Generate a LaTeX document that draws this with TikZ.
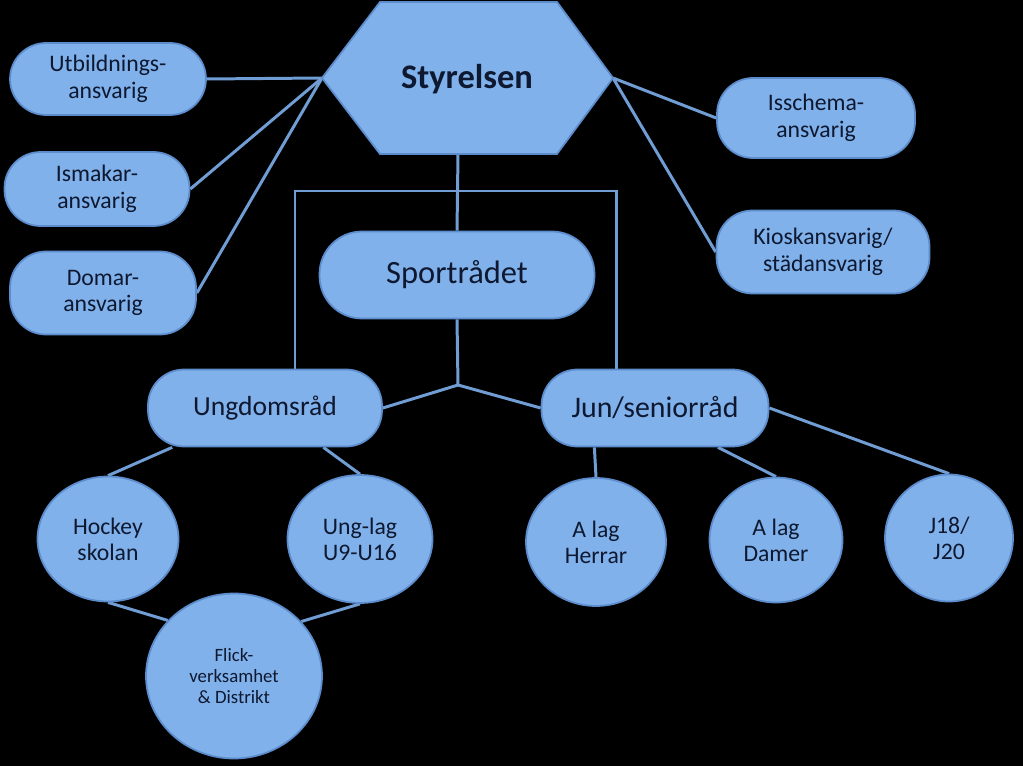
\documentclass[tikz,border=0pt]{standalone}
\usepackage{fontspec}
\setmainfont{Carlito}
\usetikzlibrary{shapes.geometric}
\definecolor{boxfill}{RGB}{128,177,234}
\definecolor{boxline}{RGB}{92,140,204}
\definecolor{wirecol}{RGB}{112,157,211}
\definecolor{ink}{RGB}{14,24,48}
\pgfdeclarelayer{bg}
\pgfdeclarelayer{wires}
\pgfsetlayers{bg,wires,main}
\tikzset{
  pill/.style={draw=boxline, fill=boxfill, line width=1pt, rounded corners=0.72cm,
    text=ink, align=center, inner sep=0pt},
  disc/.style={ellipse, draw=boxline, fill=boxfill, line width=1pt,
    text=ink, align=center, inner sep=0pt},
  wire/.style={draw=wirecol, line width=1.7pt},
  side/.style={font=\fontsize{13.5}{15.2}\selectfont},
  team/.style={font=\fontsize{13.5}{14.8}\selectfont},
}
\begin{document}
\begin{tikzpicture}[x=0.02cm, y=-0.02cm]
\begin{pgfonlayer}{bg}
  \fill[black] (0,0) rectangle (1023,766);
\end{pgfonlayer}

\filldraw[fill=boxfill, draw=boxline, line width=1pt]
  (380,2) -- (557,2) -- (613,78) -- (557,154) -- (380,154) -- (322,78) -- cycle;
\node[text=ink, font=\fontsize{19.6}{22}\selectfont\bfseries] (sty) at (467,79) {Styrelsen};
\coordinate (styW) at (322,78);
\coordinate (styE) at (613,78);
\coordinate (styS) at (458,154);

\node[pill, side, minimum width=3.92cm, minimum height=1.44cm] (utb) at (108,79) {Utbildnings-\\ansvarig};
\node[pill, side, minimum width=3.7cm, minimum height=1.48cm] (ism) at (97,189) {Ismakar-\\ansvarig};
\node[pill, side, minimum width=3.72cm, minimum height=1.66cm] (dom) at (103,293) {Domar-\\ansvarig};
\node[pill, side, minimum width=3.96cm, minimum height=1.6cm] (iss) at (816,118) {Isschema-\\ansvarig};
\node[pill, side, minimum width=4.26cm, minimum height=1.66cm] (kio) at (823,252) {Kioskansvarig/\\städansvarig};

\node[pill, rounded corners=0.85cm, minimum width=5.5cm, minimum height=1.74cm,
  font=\fontsize{18.5}{20}\selectfont] (spo) at (457,275) {Sportrådet};
\node[pill, minimum width=4.68cm, minimum height=1.54cm,
  font=\fontsize{15.7}{18}\selectfont] (ung) at (265,408) {Ungdomsråd};
\node[pill, minimum width=4.54cm, minimum height=1.54cm,
  font=\fontsize{17}{19}\selectfont] (jun) at (655,408) {Jun/seniorråd};

\node[disc, team, minimum width=2.82cm, minimum height=2.5cm] (hoc) at (108,539) {Hockey\\skolan};
\node[disc, team, minimum width=2.9cm, minimum height=2.56cm] (ulg) at (360,539) {Ung-lag\\U9-U16};
\node[disc, team, minimum width=2.8cm, minimum height=2.56cm] (her) at (596,542) {A lag\\Herrar};
\node[disc, team, minimum width=2.66cm, minimum height=2.5cm] (dam) at (776,540) {A lag\\Damer};
\node[disc, team, minimum width=2.56cm, minimum height=2.54cm] (j18) at (949,538) {J18/\\J20};
\node[disc, minimum width=3.52cm, minimum height=3.3cm,
  font=\fontsize{10.7}{11.9}\selectfont] (fli) at (234,676) {Flick-\\verksamhet\\\& Distrikt};

\coordinate (brL) at (295,191);
\coordinate (brR) at (616,191);
\coordinate (mid) at (458,385);

\begin{pgfonlayer}{wires}
  \draw[wire] (styW) -- (utb.east);
  \draw[wire] (styW) -- (ism.east);
  \draw[wire] (styW) -- (dom.east);
  \draw[wire] (styE) -- (iss.west);
  \draw[wire] (styE) -- (kio.west);
  \draw[wire] (styS) -- (spo.north);
  \draw[wire] (brL |- ung.north) -- (brL) -- (brR) -- (brR |- jun.north);
  \draw[wire] (spo.south) -- (mid);
  \draw[wire] (mid) -- (ung.east);
  \draw[wire] (mid) -- (jun.west);
  \draw[wire] (ung.203) -- (hoc.north);
  \draw[wire] (ung.326) -- (ulg.north);
  \draw[wire] (jun.213) -- (her.north);
  \draw[wire] (jun.328) -- (dam.north);
  \draw[wire] (jun.east) -- (j18.north);
  \draw[wire] (hoc.south) -- (fli.140);
  \draw[wire] (ulg.south) -- (fli.39);
\end{pgfonlayer}
\end{tikzpicture}
\end{document}
